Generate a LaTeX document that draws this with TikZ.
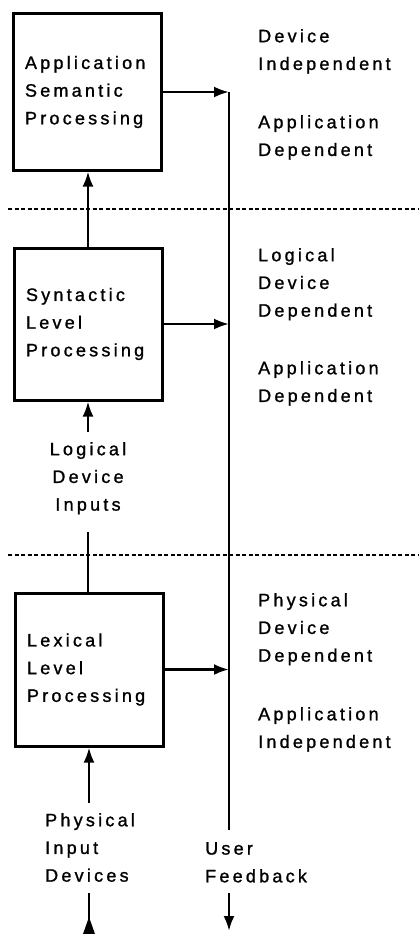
\documentclass[tikz,border=0pt]{standalone}
\usepackage{fontspec}
\setmainfont{Liberation Sans}[LetterSpace=18,FakeBold=1.2]
\usetikzlibrary{arrows.meta}
\begin{document}
\begin{tikzpicture}[x=1pt,y=-1pt,
  every node/.style={font=\fontsize{18}{27.7}\selectfont, inner sep=0pt},
  procbox/.style={draw, line width=3pt, minimum width=148pt, minimum height=156pt,
    text width=124pt, align=left, inner xsep=12pt},
  lbl/.style={align=left, anchor=north west},
  arr/.style={line width=2.6pt, -{Latex[length=15pt,width=11pt]}},
  plain/.style={line width=2.6pt},
  sep/.style={line width=2pt, dash pattern=on 4pt off 2.5pt}]
\useasboundingbox (0,0) rectangle (418,934);
% processing boxes
\node[procbox] (sem) at (87,92) {Application\\Semantic\\Processing};
\node[procbox, minimum height=152pt] (syn) at (88,324) {Syntactic\\Level\\Processing};
\node[procbox, minimum height=153pt] (lex) at (89,669.5) {Lexical\\Level\\Processing};
% feedback line
\coordinate (fbtop) at (229,92);
\coordinate (fbbot) at (229,830);
\draw[plain] (fbtop) -- (fbbot);
\draw[arr] (sem.east) -- (sem.east -| fbtop);
\draw[arr] (syn.east) -- (syn.east -| fbtop);
\draw[arr] (lex.east) -- (lex.east -| fbtop);
% separators
\coordinate (s1l) at (8,209); \coordinate (s1r) at (418,209);
\coordinate (s2l) at (8,555); \coordinate (s2r) at (418,555);
\draw[sep] (s1l) -- (s1r);
\draw[sep] (s2l) -- (s2r);
% vertical flow
\draw[arr] (syn.north) -- (syn.north |- sem.south);
\node[align=center, anchor=north] (ldi) at (88,442) {Logical\\Device\\Inputs};
\coordinate (ldiin) at (88,432);
\draw[arr] (ldiin) -- (ldiin |- syn.south);
\coordinate (ldiout) at (88,532);
\draw[plain] (ldiout) -- (ldiout |- lex.north);
\node[lbl] (pid) at (45,813) {Physical\\Input\\Devices};
\coordinate (pidin) at (89,803);
\draw[arr] (pidin) -- (pidin |- lex.south);
\coordinate (pidbot) at (89,893);
\coordinate (edge) at (89,934);
\draw[plain] (pidbot) -- (edge);
\fill ([yshift=17pt]edge) -- ([xshift=-6pt]edge) -- ([xshift=6pt]edge) -- cycle;
\node[lbl] (uf) at (205,842) {User\\Feedback};
\coordinate (ufa) at (229,893);
\coordinate (ufb) at (229,931);
\draw[arr] (ufa) -- (ufb);
% right column labels
\node[lbl] (r1) at (258,29) {Device\\Independent};
\node[lbl] (r2) at (258,115) {Application\\Dependent};
\node[lbl] (r3) at (258,248) {Logical\\Device\\Dependent};
\node[lbl] (r4) at (258,361) {Application\\Dependent};
\node[lbl] (r5) at (258,593) {Physical\\Device\\Dependent};
\node[lbl] (r6) at (258,707) {Application\\Independent};
\end{tikzpicture}
\end{document}
